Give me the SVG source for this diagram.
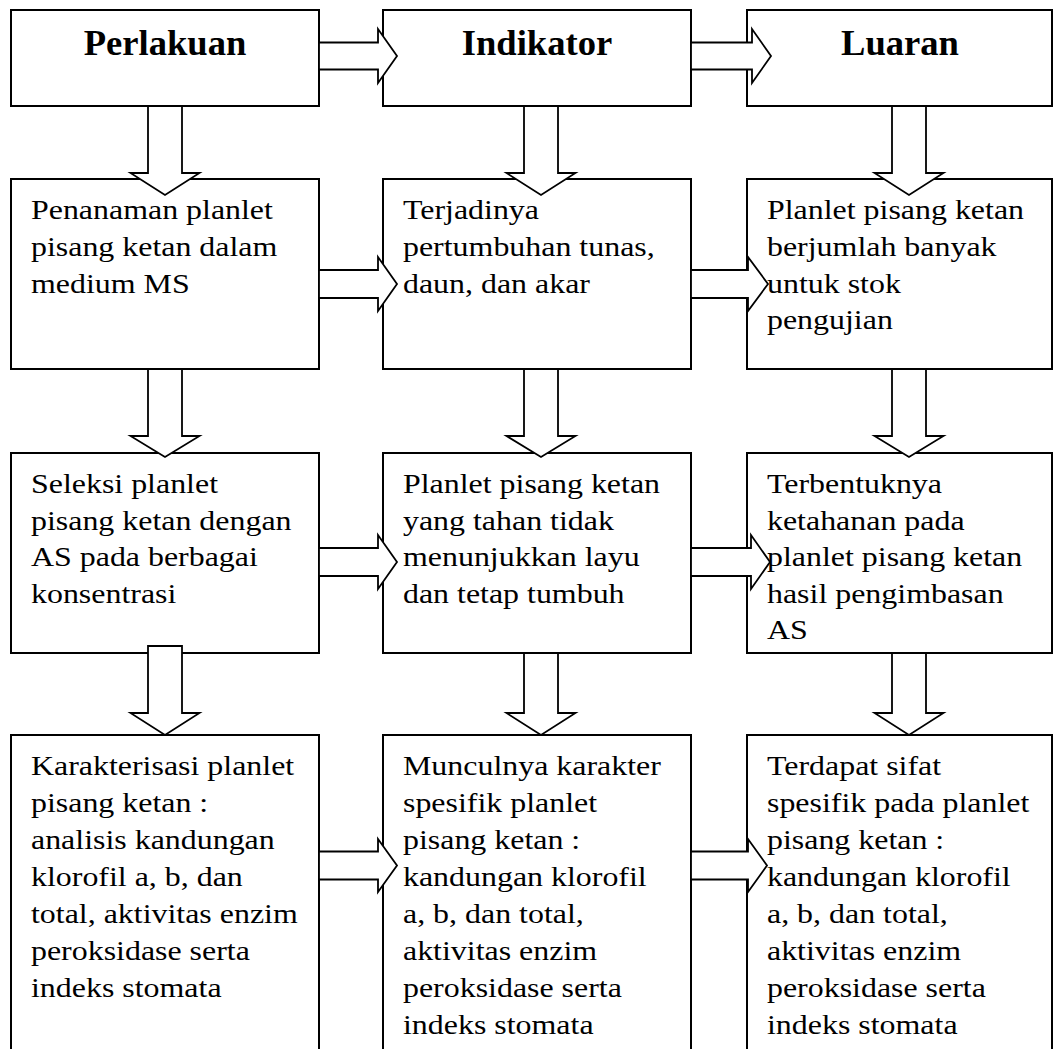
<svg xmlns="http://www.w3.org/2000/svg" width="1055" height="1049" viewBox="0 0 1055 1049">
<style>
.box{fill:#fff;stroke:#000;stroke-width:2}
.arr{fill:#fff;stroke:#000;stroke-width:1.8;stroke-linejoin:miter}
.h{font-family:"Liberation Serif","Times New Roman",serif;font-weight:bold;font-size:36.6px;fill:#000;text-anchor:middle}
.t{font-family:"Liberation Serif","Times New Roman",serif;font-size:28px;fill:#000}
</style>
<rect width="1055" height="1049" fill="#fff"/>
<g id="n-perlakuan"><rect class="box" x="11" y="10" width="308" height="96"/><text class="h" x="165" y="55">Perlakuan</text></g>
<g id="n-indikator"><rect class="box" x="383" y="10" width="308" height="96"/><text class="h" x="537" y="55">Indikator</text></g>
<g id="n-luaran"><rect class="box" x="747" y="10" width="305" height="96"/><text class="h" x="900" y="55">Luaran</text></g>

<g id="n-p1"><rect class="box" x="11" y="179" width="308" height="190"/>
<text class="t" transform="translate(31 219) scale(1.14 1)"><tspan x="0" y="0">Penanaman planlet</tspan><tspan x="0" dy="36.8">pisang ketan dalam</tspan><tspan x="0" dy="36.8">medium MS</tspan></text></g>
<g id="n-i1"><rect class="box" x="383" y="179" width="308" height="190"/>
<text class="t" transform="translate(403 219) scale(1.14 1)"><tspan x="0" y="0">Terjadinya</tspan><tspan x="0" dy="36.8">pertumbuhan tunas,</tspan><tspan x="0" dy="36.8">daun, dan akar</tspan></text></g>
<g id="n-l1"><rect class="box" x="747" y="179" width="305" height="190"/>
<text class="t" transform="translate(767 219) scale(1.14 1)"><tspan x="0" y="0">Planlet pisang ketan</tspan><tspan x="0" dy="36.8">berjumlah banyak</tspan><tspan x="0" dy="36.8">untuk stok</tspan><tspan x="0" dy="36.8">pengujian</tspan></text></g>

<g id="n-p2"><rect class="box" x="11" y="453" width="308" height="200"/>
<text class="t" transform="translate(31 493) scale(1.14 1)"><tspan x="0" y="0">Seleksi planlet</tspan><tspan x="0" dy="36.6">pisang ketan dengan</tspan><tspan x="0" dy="36.6">AS pada berbagai</tspan><tspan x="0" dy="36.6">konsentrasi</tspan></text></g>
<g id="n-i2"><rect class="box" x="383" y="453" width="308" height="200"/>
<text class="t" transform="translate(403 493) scale(1.14 1)"><tspan x="0" y="0">Planlet pisang ketan</tspan><tspan x="0" dy="36.6">yang tahan tidak</tspan><tspan x="0" dy="36.6">menunjukkan layu</tspan><tspan x="0" dy="36.6">dan tetap tumbuh</tspan></text></g>
<g id="n-l2"><rect class="box" x="747" y="453" width="305" height="200"/>
<text class="t" transform="translate(767 493) scale(1.14 1)"><tspan x="0" y="0">Terbentuknya</tspan><tspan x="0" dy="36.6">ketahanan pada</tspan><tspan x="0" dy="36.6">planlet pisang ketan</tspan><tspan x="0" dy="36.6">hasil pengimbasan</tspan><tspan x="0" dy="36.6">AS</tspan></text></g>

<g id="n-p3"><rect class="box" x="11" y="735" width="308" height="340"/>
<text class="t" transform="translate(31 775) scale(1.14 1)"><tspan x="0" y="0">Karakterisasi planlet</tspan><tspan x="0" dy="37">pisang ketan :</tspan><tspan x="0" dy="37">analisis kandungan</tspan><tspan x="0" dy="37">klorofil a, b, dan</tspan><tspan x="0" dy="37">total, aktivitas enzim</tspan><tspan x="0" dy="37">peroksidase serta</tspan><tspan x="0" dy="37">indeks stomata</tspan></text></g>
<g id="n-i3"><rect class="box" x="383" y="735" width="308" height="340"/>
<text class="t" transform="translate(403 775) scale(1.14 1)"><tspan x="0" y="0">Munculnya karakter</tspan><tspan x="0" dy="37">spesifik planlet</tspan><tspan x="0" dy="37">pisang ketan :</tspan><tspan x="0" dy="37">kandungan klorofil</tspan><tspan x="0" dy="37">a, b, dan total,</tspan><tspan x="0" dy="37">aktivitas enzim</tspan><tspan x="0" dy="37">peroksidase serta</tspan><tspan x="0" dy="37">indeks stomata</tspan></text></g>
<g id="n-l3"><rect class="box" x="747" y="735" width="305" height="340"/>
<text class="t" transform="translate(767 775) scale(1.14 1)"><tspan x="0" y="0">Terdapat sifat</tspan><tspan x="0" dy="37">spesifik pada planlet</tspan><tspan x="0" dy="37">pisang ketan :</tspan><tspan x="0" dy="37">kandungan klorofil</tspan><tspan x="0" dy="37">a, b, dan total,</tspan><tspan x="0" dy="37">aktivitas enzim</tspan><tspan x="0" dy="37">peroksidase serta</tspan><tspan x="0" dy="37">indeks stomata</tspan></text></g>

<g id="connectors">
<polygon class="arr" points="319,42.5 378,42.5 378,29 397,56 378,83 378,69.5 319,69.5"/>
<polygon class="arr" points="691,42.5 752,42.5 752,29 771,56 752,83 752,69.5 691,69.5"/>
<polygon class="arr" points="319,270 378,270 378,257 397,284 378,311 378,298 319,298"/>
<polygon class="arr" points="691,270 748,270 748,257 768,284 748,311 748,298 691,298"/>
<polygon class="arr" points="319,548 378,548 378,535 397,562 378,589 378,576 319,576"/>
<polygon class="arr" points="691,548 751,548 751,535 770,562 751,589 751,576 691,576"/>
<polygon class="arr" points="319,851.5 378,851.5 378,839 397,865.5 378,892 378,879.5 319,879.5"/>
<polygon class="arr" points="691,851.5 748,851.5 748,839 767,865.5 748,892 748,879.5 691,879.5"/>
<polygon class="arr" points="148,106 182,106 182,173 199.5,173 165,195 130.5,173 148,173"/>
<polygon class="arr" points="524,106 558,106 558,173 575.5,173 541,195 506.5,173 524,173"/>
<polygon class="arr" points="892,106 926,106 926,173 943.5,173 909,195 874.5,173 892,173"/>
<polygon class="arr" points="148,369 182,369 182,436 199.5,436 165,457 130.5,436 148,436"/>
<polygon class="arr" points="524,369 558,369 558,436 575.5,436 541,457 506.5,436 524,436"/>
<polygon class="arr" points="892,369 926,369 926,436 943.5,436 909,457 874.5,436 892,436"/>
<polygon class="arr" points="148,646 182,646 182,713 199.5,713 165,735 130.5,713 148,713"/>
<polygon class="arr" points="524,653 558,653 558,713 575.5,713 541,735 506.5,713 524,713"/>
<polygon class="arr" points="892,653 926,653 926,713 943.5,713 909,735 874.5,713 892,713"/>
</g>
</svg>
